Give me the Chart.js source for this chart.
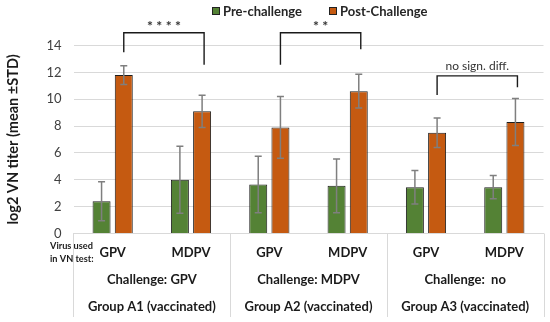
<!DOCTYPE html>
<html>
<head>
<meta charset="utf-8">
<script src="https://cdn.jsdelivr.net/npm/chart.js@4/dist/chart.umd.min.js"></script>
<style>
    html, body { margin: 0; padding: 0; background: #fff; }
    #wrap { width: 550px; height: 322px; }
</style>
</head>
<body>
<div id="wrap"><canvas id="vnChart"></canvas></div>
<script>
// virus used in VN test, challenge virus, group
const categories = ['GPV', 'MDPV', 'GPV', 'MDPV', 'GPV', 'MDPV'];
const challenges = ['Challenge: GPV', 'Challenge: MDPV', 'Challenge:  no'];
const groups = ['Group A1 (vaccinated)', 'Group A2 (vaccinated)', 'Group A3 (vaccinated)'];

// log2 VN titer, mean and STD
const preMean = [2.4, 4.0, 3.65, 3.55, 3.45, 3.45];
const preSd = [1.45, 2.5, 2.1, 2.0, 1.25, 0.87];
const postMean = [11.8, 9.1, 7.9, 10.6, 7.5, 8.3];
const postSd = [0.7, 1.2, 2.3, 1.25, 1.1, 1.75];

const yTicks = [0, 2, 4, 6, 8, 10, 12, 14];

// significance brackets between post-challenge bars
const bracketPairs = [[0, 1], [2, 3], [4, 5]];
const bracketTop = [14.95, 14.95, 11.74];
const bracketLeftEnd = [13.5, 12.56, 10.32];
const bracketRightEnd = [12.56, 13.73, 10.9];
const bracketText = ['* * * *', '* *', 'no sign. diff.'];
const bracketTextY = [15.4, 15.4, 12.5];

const GREEN = '#548235';
const ORANGE = '#C55A11';
const FONT = 'Lato, "Open Sans", sans-serif';

const extras = {
    id: 'extras',
    afterDatasetsDraw(chart) {
        const ctx = chart.ctx;
        const x = chart.scales.x, y = chart.scales.y;
        const sds = [preSd, postSd];
        ctx.save();
        // error bars
        ctx.strokeStyle = '#7f7f7f';
        ctx.lineWidth = 1.5;
        chart.data.datasets.forEach((ds, d) => {
            chart.getDatasetMeta(d).data.forEach((bar, i) => {
                const hi = y.getPixelForValue(ds.data[i] + sds[d][i]);
                const lo = y.getPixelForValue(ds.data[i] - sds[d][i]);
                ctx.beginPath();
                ctx.moveTo(bar.x, hi); ctx.lineTo(bar.x, lo);
                ctx.moveTo(bar.x - 3.5, hi); ctx.lineTo(bar.x + 3.5, hi);
                ctx.moveTo(bar.x - 3.5, lo); ctx.lineTo(bar.x + 3.5, lo);
                ctx.stroke();
            });
        });
        // brackets
        const post = chart.getDatasetMeta(1).data;
        ctx.strokeStyle = '#1a1a1a';
        ctx.lineWidth = 1.4;
        ctx.fillStyle = '#333';
        ctx.textAlign = 'center';
        ctx.textBaseline = 'middle';
        bracketPairs.forEach((p, k) => {
            const x1 = post[p[0]].x, x2 = post[p[1]].x + 2;
            const yt = y.getPixelForValue(bracketTop[k]);
            ctx.beginPath();
            ctx.moveTo(x1, y.getPixelForValue(bracketLeftEnd[k]));
            ctx.lineTo(x1, yt);
            ctx.lineTo(x2, yt);
            ctx.lineTo(x2, y.getPixelForValue(bracketRightEnd[k]));
            ctx.stroke();
            ctx.font = k < 2 ? 'bold 14px ' + FONT : '12px ' + FONT;
            ctx.fillText(bracketText[k], (x1 + x2) / 2, y.getPixelForValue(bracketTextY[k]));
        });
        // multi-level category table
        const step = x.getPixelForValue(1) - x.getPixelForValue(0);
        const left = x.getPixelForValue(0) - step / 2;
        const top = chart.chartArea.bottom;
        ctx.strokeStyle = '#d9d9d9';
        ctx.lineWidth = 1;
        for (let g = 0; g <= groups.length; g++) {
            const gx = Math.round(left + g * 2 * step) + 0.5;
            ctx.beginPath();
            ctx.moveTo(gx, top); ctx.lineTo(gx, 317);
            ctx.stroke();
        }
        ctx.fillStyle = '#1a1a1a';
        ctx.font = 'bold 13px ' + FONT;
        groups.forEach((g, k) => {
            const cx = left + (2 * k + 1) * step;
            ctx.fillText(challenges[k], cx, 279.5);
            ctx.fillText(g, cx, 307);
        });
        ctx.font = 'bold 9.2px ' + FONT;
        ctx.textAlign = 'left';
        ctx.fillText('Virus used', 50, 246);
        ctx.fillText('in VN test:', 50, 259);
        // legend
        const items = chart.data.datasets.map(ds => ({ label: ds.label, color: ds.backgroundColor }));
        const lx = [212, 329];
        ctx.font = 'bold 13px ' + FONT;
        items.forEach((it, k) => {
            ctx.fillStyle = it.color;
            ctx.fillRect(lx[k], 7, 8, 8);
            ctx.strokeStyle = '#222';
            ctx.strokeRect(lx[k] + 0.5, 7.5, 7, 7);
            ctx.fillStyle = '#262626';
            ctx.fillText(it.label, lx[k] + 11, 11.5);
        });
        ctx.restore();
    }
};

new Chart(document.getElementById('vnChart').getContext('2d'), {
    type: 'bar',
    data: {
        labels: categories,
        datasets: [
            { label: 'Pre-challenge', data: preMean, backgroundColor: GREEN, borderColor: '#1e1e1e', borderWidth: 1 },
            { label: 'Post-Challenge', data: postMean, backgroundColor: ORANGE, borderColor: '#1e1e1e', borderWidth: 1 }
        ]
    },
    options: {
        responsive: true, maintainAspectRatio: false, animation: false,
        layout: { padding: { left: 0, right: 6.5, top: 45.5, bottom: 0 } },
        datasets: { bar: { categoryPercentage: 0.567, barPercentage: 0.81 } },
        plugins: { legend: { display: false }, tooltip: { enabled: false } },
        scales: {
            x: {
                grid: { display: false, drawTicks: false },
                border: { display: true, color: '#d9d9d9' },
                ticks: { color: '#1a1a1a', padding: 12, font: { family: FONT, size: 13, weight: 'bold' } },
                afterFit(s) { s.height = 88.5; }
            },
            y: {
                min: 0, max: 14,
                afterBuildTicks(s) { s.ticks = yTicks.map(v => ({ value: v })); },
                grid: { color: '#d9d9d9', drawTicks: false },
                border: { display: false },
                ticks: { color: '#404040', padding: 12, font: { family: FONT, size: 13 } },
                title: { display: true, text: 'log2 VN titer (mean ±STD)', color: '#1a1a1a', padding: { top: 5, bottom: 0 }, font: { family: FONT, size: 14.5, weight: 'bold' } },
                afterFit(s) { s.width = 73.5; }
            }
        }
    },
    plugins: [extras]
});
</script>
</body>
</html>
